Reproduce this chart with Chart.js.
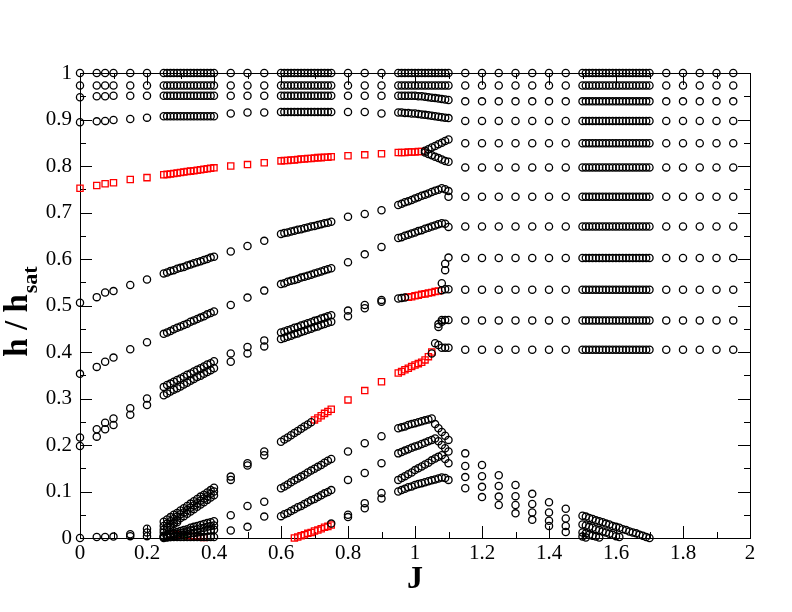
<!DOCTYPE html>
<html>
<head>
<meta charset="utf-8">
<title>h / hsat vs J</title>
<script src="https://cdn.jsdelivr.net/npm/chart.js@4.4.0/dist/chart.umd.min.js"></script>
<style>
  html, body { margin: 0; padding: 0; background: #ffffff; }
  #wrap { width: 792px; height: 612px; }
</style>
</head>
<body>
<div id="wrap"><canvas id="chart" width="792" height="612"></canvas></div>
<script>
// ---- axis ticks ----
const xMajorTicks = [0, 0.2, 0.4, 0.6, 0.8, 1, 1.2, 1.4, 1.6, 1.8, 2];
const xMinorTicks = [0.1, 0.3, 0.5, 0.7, 0.9, 1.1, 1.3, 1.5, 1.7, 1.9];
const yMajorTicks = [0, 0.1, 0.2, 0.3, 0.4, 0.5, 0.6, 0.7, 0.8, 0.9, 1];
const yMinorTicks = [0.05, 0.15, 0.25, 0.35, 0.45, 0.55, 0.65, 0.75, 0.85, 0.95];

// ---- isolated J columns: black circles and red squares ----
const sparseJ = [0, 0.05, 0.075, 0.1, 0.15, 0.2, 0.45, 0.5, 0.55, 0.8, 0.85, 0.9];
const sparseBlack = [
    [1.0, 0.973, 0.948, 0.894, 0.506, 0.353, 0.216, 0.198, 0.0],
    [1.0, 0.973, 0.950, 0.896, 0.518, 0.368, 0.234, 0.218, 0.002],
    [1.0, 0.973, 0.950, 0.897, 0.528, 0.379, 0.248, 0.234, 0.002],
    [1.0, 0.973, 0.951, 0.899, 0.531, 0.388, 0.257, 0.243, 0.003],
    [1.0, 0.973, 0.951, 0.901, 0.544, 0.406, 0.279, 0.265, 0.008, 0.004],
    [1.0, 0.973, 0.951, 0.904, 0.556, 0.421, 0.300, 0.286, 0.020, 0.012, 0.004],
    [1.0, 0.973, 0.951, 0.913, 0.616, 0.501, 0.397, 0.379, 0.132, 0.125, 0.049, 0.016],
    [1.0, 0.973, 0.951, 0.915, 0.628, 0.517, 0.411, 0.397, 0.161, 0.156, 0.069, 0.024],
    [1.0, 0.973, 0.951, 0.915, 0.639, 0.532, 0.425, 0.412, 0.186, 0.178, 0.078, 0.046],
    [1.0, 0.973, 0.951, 0.916, 0.691, 0.593, 0.489, 0.477, 0.186, 0.125, 0.050, 0.045],
    [1.0, 0.973, 0.951, 0.916, 0.697, 0.610, 0.501, 0.494, 0.204, 0.140, 0.075, 0.064],
    [1.0, 0.973, 0.951, 0.913, 0.705, 0.626, 0.512, 0.508, 0.219, 0.161, 0.097, 0.085]
];
const sparseRed = [
    [0.752], [0.758], [0.762], [0.764], [0.771], [0.775],
    [0.800], [0.803], [0.807],
    [0.822, 0.297], [0.824, 0.317], [0.8265, 0.336]
];

// ---- dense block A: J 0.25 .. 0.40 ----
const gridA = [0.25, 0.26, 0.27, 0.28, 0.29, 0.30, 0.31, 0.32, 0.33, 0.34, 0.35, 0.36, 0.37, 0.38, 0.39, 0.40];
const levelsA = [1.0, 0.973, 0.951, 0.907, 0.002];
const blackA = [
    [0.569, 0.571, 0.574, 0.576, 0.579, 0.581, 0.583, 0.586, 0.588, 0.591, 0.593, 0.595, 0.598, 0.600, 0.603, 0.605],
    [0.439, 0.442, 0.445, 0.449, 0.452, 0.455, 0.458, 0.461, 0.465, 0.468, 0.471, 0.474, 0.477, 0.481, 0.484, 0.487],
    [0.325, 0.329, 0.332, 0.336, 0.340, 0.343, 0.347, 0.351, 0.354, 0.358, 0.362, 0.365, 0.369, 0.373, 0.376, 0.380],
    [0.307, 0.311, 0.315, 0.319, 0.322, 0.326, 0.330, 0.334, 0.338, 0.342, 0.346, 0.349, 0.353, 0.357, 0.361, 0.365],
    [0.035, 0.040, 0.045, 0.050, 0.054, 0.059, 0.064, 0.069, 0.074, 0.079, 0.084, 0.089, 0.093, 0.098, 0.103, 0.108],
    [0.026, 0.031, 0.036, 0.041, 0.046, 0.051, 0.055, 0.060, 0.065, 0.070, 0.075, 0.080, 0.085, 0.090, 0.095, 0.100],
    [0.018, 0.023, 0.028, 0.033, 0.038, 0.043, 0.047, 0.052, 0.057, 0.062, 0.067, 0.072, 0.077, 0.082, 0.087, 0.092],
    [0.012, 0.018, 0.024, 0.030, 0.034, null, null, null, null, null, null, null, null, null, null, null],
    [0.005, 0.007, 0.009, 0.011, 0.013, 0.015, 0.017, 0.019, 0.022, 0.024, 0.026, 0.028, 0.030, 0.032, 0.034, 0.036],
    [0.002, 0.004, 0.006, 0.008, 0.009, 0.011, 0.012, 0.014, 0.016, 0.018, 0.019, 0.021, 0.022, 0.024, 0.026, 0.027],
    [0.000, 0.001, 0.002, 0.004, 0.005, 0.006, 0.007, 0.008, 0.010, 0.011, 0.012, 0.013, 0.014, 0.016, 0.017, 0.018]
];
const redA = [
    [0.781, 0.782, 0.783, 0.784, 0.785, 0.786, 0.787, 0.788, 0.789, 0.790, 0.791, 0.792, 0.793, 0.794, 0.795, 0.796]
];
const redLowJ = [0.27, 0.28, 0.29, 0.30, 0.32, 0.34, 0.35, 0.36, 0.37];
const redLowH = [0.008, 0.008, 0.007, 0.007, 0.005, 0.004, 0.003, 0.002, 0.001];
const greenJ = [0.308];
const greenH = [0.004];

// ---- dense block B: J 0.60 .. 0.75 ----
const gridB = [0.60, 0.61, 0.62, 0.63, 0.64, 0.65, 0.66, 0.67, 0.68, 0.69, 0.70, 0.71, 0.72, 0.73, 0.74, 0.75];
const levelsB = [1.0, 0.973, 0.951, 0.916];
const blackB = [
    [0.654, 0.656, 0.657, 0.659, 0.661, 0.663, 0.664, 0.666, 0.668, 0.670, 0.671, 0.673, 0.675, 0.677, 0.678, 0.680],
    [0.546, 0.548, 0.551, 0.553, 0.555, 0.557, 0.560, 0.562, 0.564, 0.566, 0.569, 0.571, 0.573, 0.576, 0.578, 0.580],
    [0.442, 0.444, 0.447, 0.449, 0.452, 0.454, 0.457, 0.459, 0.462, 0.464, 0.467, 0.469, 0.472, 0.474, 0.477, 0.479],
    [0.428, 0.430, 0.433, 0.435, 0.438, 0.440, 0.443, 0.445, 0.448, 0.450, 0.453, 0.455, 0.458, 0.460, 0.463, 0.465],
    [0.207, 0.212, 0.216, 0.221, 0.226, 0.230, 0.235, 0.240, 0.244, 0.249, null, null, null, null, null, null],
    [0.107, 0.111, 0.115, 0.120, 0.124, 0.128, 0.132, 0.136, 0.141, 0.145, 0.149, 0.153, 0.157, 0.162, 0.166, 0.170],
    [0.047, 0.051, 0.054, 0.058, 0.062, 0.066, 0.069, 0.073, 0.077, 0.081, 0.084, 0.088, 0.092, 0.096, 0.099, 0.103]
];
const redB = [
    [0.811, 0.812, 0.812, 0.813, 0.813, 0.814, 0.815, 0.815, 0.816, 0.816, 0.817, 0.818, 0.818, 0.819, 0.819, 0.820],
    [null, null, null, null, null, null, null, null, null, null, 0.254, 0.258, 0.263, 0.268, 0.272, 0.277],
    [null, null, null, null, 0.000, 0.002, 0.005, 0.007, 0.010, 0.012, 0.015, 0.017, 0.020, 0.023, 0.025, 0.028]
];

// ---- dense block C: J 0.95 .. 1.10 ----
const gridC = [0.95, 0.96, 0.97, 0.98, 0.99, 1.00, 1.01, 1.02, 1.03, 1.04, 1.05, 1.06, 1.07, 1.08, 1.09, 1.10];
const levelsC = [1.0, 0.973];
const blackC = [
    [0.951, 0.951, 0.951, 0.951, 0.951, 0.951, 0.950, 0.950, 0.949, 0.948, 0.947, 0.946, 0.945, 0.944, 0.943, 0.942],
    [0.915, 0.915, 0.914, 0.914, 0.913, 0.913, 0.912, 0.911, 0.910, 0.909, 0.908, 0.907, 0.906, 0.905, 0.904, 0.903],
    [null, null, null, null, null, null, null, null, 0.833, 0.836, 0.840, 0.843, 0.847, 0.850, 0.854, 0.857],
    [null, null, null, null, null, null, null, null, 0.829, 0.826, 0.823, 0.820, 0.817, 0.814, 0.811, 0.809],
    [0.716, 0.719, 0.722, 0.724, 0.727, 0.730, 0.733, 0.736, 0.738, 0.741, 0.744, 0.747, 0.749, 0.752, 0.750, 0.746],
    [0.645, 0.647, 0.650, 0.652, 0.655, 0.657, 0.660, 0.662, 0.665, 0.667, 0.670, 0.672, 0.675, 0.677, 0.676, 0.669],
    [0.515, 0.516, 0.517, null, null, null, null, null, null, null, null, null, null, 0.533, 0.535, 0.535],
    [null, null, null, null, null, null, null, null, null, null, 0.397, 0.419, 0.415, 0.409, 0.409, 0.409],
    [0.236, 0.238, 0.240, 0.243, 0.245, 0.247, 0.249, 0.251, 0.253, 0.255, 0.257, 0.245, 0.236, 0.228, 0.220, 0.211],
    [0.182, 0.185, 0.188, 0.191, 0.194, 0.197, 0.199, 0.202, 0.205, 0.208, 0.211, 0.214, 0.208, 0.200, 0.193, 0.186],
    [0.125, 0.129, 0.133, 0.137, 0.141, 0.146, 0.150, 0.154, 0.158, 0.162, 0.167, 0.171, 0.175, 0.178, 0.170, 0.161],
    [0.100, 0.103, 0.106, 0.109, 0.111, 0.114, 0.116, 0.118, 0.120, 0.122, 0.124, 0.126, 0.128, 0.130, 0.129, 0.125]
];
const redC = [
    [0.829, 0.829, 0.829, 0.830, 0.830, 0.830, 0.831, 0.831, null, null, null, null, null, null, null, null],
    [null, null, null, 0.518, 0.519, 0.521, 0.522, 0.524, 0.525, 0.527, 0.528, 0.530, 0.531, null, null, null],
    [0.355, 0.358, 0.362, 0.365, 0.369, 0.372, 0.375, 0.378, 0.383, 0.390, 0.400, null, null, null, null, null]
];
const extraBlackJ = [0.75, 1.07, 1.07, 1.08, 1.08, 1.08, 1.09, 1.09, 1.09, 1.10, 1.10, 1.10];
const extraBlackH = [0.031, 0.454, 0.460, 0.548, 0.465, 0.469, 0.576, 0.590, 0.469, 0.603, 0.734, 0.469];

// ---- right part: plateaus for J > 1.1 and the falling low branches ----
const rightSparseJ = [1.15, 1.2, 1.25, 1.3, 1.35, 1.4, 1.45, 1.75, 1.8, 1.85, 1.9, 1.95];
const gridD = [1.50, 1.51, 1.52, 1.53, 1.54, 1.55, 1.56, 1.57, 1.58, 1.59, 1.60,
               1.61, 1.62, 1.63, 1.64, 1.65, 1.66, 1.67, 1.68, 1.69, 1.70];
const rightLevels = [1.0, 0.973, 0.939, 0.897, 0.849, 0.797, 0.734, 0.670, 0.602, 0.534, 0.468, 0.405];
const tailJ = [1.15, 1.2, 1.25, 1.3, 1.35, 1.4, 1.45];
const tails = [
    [0.182, 0.157, 0.135, 0.114, 0.095, 0.077, 0.063],
    [0.155, 0.133, 0.112, 0.090, 0.073, 0.055, 0.042],
    [0.131, 0.110, 0.089, 0.071, 0.055, 0.037, 0.026],
    [0.107, 0.088, 0.071, 0.053, 0.039, 0.026, 0.013]
];
const tailsD = [
    [0.048, 0.046, 0.043, 0.041, 0.038, 0.036, 0.034, 0.031, 0.029, 0.026, 0.024,
     0.022, 0.019, 0.017, 0.014, 0.012, 0.010, 0.007, 0.005, 0.002, 0.000],
    [0.029, 0.027, 0.024, 0.022, 0.019, 0.017, 0.014, 0.012, 0.009, 0.007, 0.004,
     0.002, null, null, null, null, null, null, null, null, null],
    [0.012, 0.010, 0.007, 0.005, 0.003, 0.001, null, null, null, null, null,
     null, null, null, null, null, null, null, null, null, null],
    [0.003, 0.001, null, null, null, null, null, null, null, null, null,
     null, null, null, null, null, null, null, null, null, null]
];

// ---- helpers turning the tables into {x, y} points ----
function fromColumns(js, cols) {
    const pts = [];
    js.forEach((j, i) => cols[i].forEach(h => pts.push({ x: j, y: h })));
    return pts;
}

function fromBranches(grid, branches) {
    const pts = [];
    branches.forEach(b => b.forEach((h, i) => {
        if (h !== null) pts.push({ x: grid[i], y: h });
    }));
    return pts;
}

function fromLevels(grid, levels) {
    const pts = [];
    levels.forEach(h => grid.forEach(j => pts.push({ x: j, y: h })));
    return pts;
}

function fromPairs(js, hs) {
    return js.map((j, i) => ({ x: j, y: hs[i] }));
}

const blackPoints = [].concat(
    fromColumns(sparseJ, sparseBlack),
    fromLevels(gridA, levelsA), fromBranches(gridA, blackA),
    fromLevels(gridB, levelsB), fromBranches(gridB, blackB),
    fromLevels(gridC, levelsC), fromBranches(gridC, blackC),
    fromPairs(extraBlackJ, extraBlackH),
    fromLevels(rightSparseJ.concat(gridD), rightLevels),
    fromBranches(tailJ, tails), fromBranches(gridD, tailsD)
);

const redPoints = [].concat(
    fromColumns(sparseJ, sparseRed),
    fromBranches(gridA, redA), fromPairs(redLowJ, redLowH),
    fromBranches(gridB, redB), fromBranches(gridC, redC)
);

const greenPoints = fromPairs(greenJ, greenH);

const SERIF = "'Liberation Serif', 'Times New Roman', 'DejaVu Serif', serif";

// frame with inward ticks on all four sides, plus axis titles
const framePlugin = {
    id: 'frame',
    beforeDatasetsDraw(chart) {
        const { ctx, chartArea: a, scales } = chart;
        const xs = scales.x, ys = scales.y;
        ctx.save();
        ctx.strokeStyle = '#000';
        ctx.lineWidth = 1;
        ctx.strokeRect(a.left + 0.5, a.top + 0.5, a.right - a.left, a.bottom - a.top);
        ctx.beginPath();
        const vTick = (v, len) => {
            const px = Math.round(xs.getPixelForValue(v)) + 0.5;
            ctx.moveTo(px, a.bottom); ctx.lineTo(px, a.bottom - len);
            ctx.moveTo(px, a.top); ctx.lineTo(px, a.top + len);
        };
        const hTick = (v, len) => {
            const py = Math.round(ys.getPixelForValue(v)) + 0.5;
            ctx.moveTo(a.left, py); ctx.lineTo(a.left + len, py);
            ctx.moveTo(a.right, py); ctx.lineTo(a.right - len, py);
        };
        xMajorTicks.forEach(v => vTick(v, 12));
        xMinorTicks.forEach(v => vTick(v, 6));
        yMajorTicks.forEach(v => hTick(v, 12));
        yMinorTicks.forEach(v => hTick(v, 6));
        ctx.stroke();
        ctx.restore();
    },
    afterDraw(chart) {
        const { ctx, chartArea: a } = chart;
        ctx.save();
        ctx.fillStyle = '#000';
        // x title
        ctx.font = 'bold 32px ' + SERIF;
        ctx.textAlign = 'center';
        ctx.textBaseline = 'alphabetic';
        ctx.fillText('J', (a.left + a.right) / 2, 588);
        // y title with subscript
        const mainFont = 'bold 33px ' + SERIF;
        const subFont = 'bold 22px ' + SERIF;
        ctx.font = mainFont;
        const w1 = ctx.measureText('h / h').width;
        ctx.font = subFont;
        const w2 = ctx.measureText('sat').width;
        ctx.translate(27, 312);
        ctx.rotate(-Math.PI / 2);
        ctx.textAlign = 'left';
        const x0 = -(w1 + w2) / 2;
        ctx.font = mainFont;
        ctx.fillText('h / h', x0, 0);
        ctx.font = subFont;
        ctx.fillText('sat', x0 + w1 + 1, 10);
        ctx.restore();
    }
};

const tickFont = { family: SERIF, size: 21 };

new Chart(document.getElementById('chart'), {
    type: 'scatter',
    data: {
        datasets: [
            {
                label: 'black',
                data: blackPoints,
                pointStyle: 'circle',
                pointRadius: 3.6,
                pointHoverRadius: 3.6,
                pointBorderWidth: 1.3,
                pointBorderColor: '#000000',
                pointBackgroundColor: 'rgba(0,0,0,0)',
                clip: false
            },
            {
                label: 'red',
                data: redPoints,
                pointStyle: 'rect',
                pointRadius: 4.4,
                pointHoverRadius: 4.4,
                pointBorderWidth: 1.3,
                pointBorderColor: '#ff0000',
                pointBackgroundColor: 'rgba(0,0,0,0)',
                clip: false
            },
            {
                label: 'green',
                data: greenPoints,
                pointStyle: 'triangle',
                rotation: -90,
                pointRadius: 4,
                pointBorderWidth: 1.5,
                pointBorderColor: '#00cc00',
                pointBackgroundColor: 'rgba(0,0,0,0)',
                clip: false
            }
        ]
    },
    options: {
        responsive: false,
        devicePixelRatio: 1,
        animation: false,
        events: [],
        layout: { padding: { left: 0, top: 73, right: 42, bottom: 0 } },
        plugins: {
            legend: { display: false },
            tooltip: { enabled: false }
        },
        scales: {
            x: {
                type: 'linear',
                min: 0,
                max: 2,
                afterBuildTicks: s => { s.ticks = xMajorTicks.map(v => ({ value: v })); },
                afterFit: s => { s.height = 74; },
                grid: { display: false, drawTicks: false },
                border: { display: false },
                ticks: {
                    autoSkip: false,
                    maxRotation: 0,
                    padding: 3,
                    color: '#000',
                    font: tickFont,
                    callback: v => String(v)
                }
            },
            y: {
                type: 'linear',
                min: 0,
                max: 1,
                afterBuildTicks: s => { s.ticks = yMajorTicks.map(v => ({ value: v })); },
                afterFit: s => { s.width = 80; },
                grid: { display: false, drawTicks: false },
                border: { display: false },
                ticks: {
                    autoSkip: false,
                    padding: 8,
                    color: '#000',
                    font: tickFont,
                    callback: v => String(v)
                }
            }
        }
    },
    plugins: [framePlugin]
});
</script>
</body>
</html>
